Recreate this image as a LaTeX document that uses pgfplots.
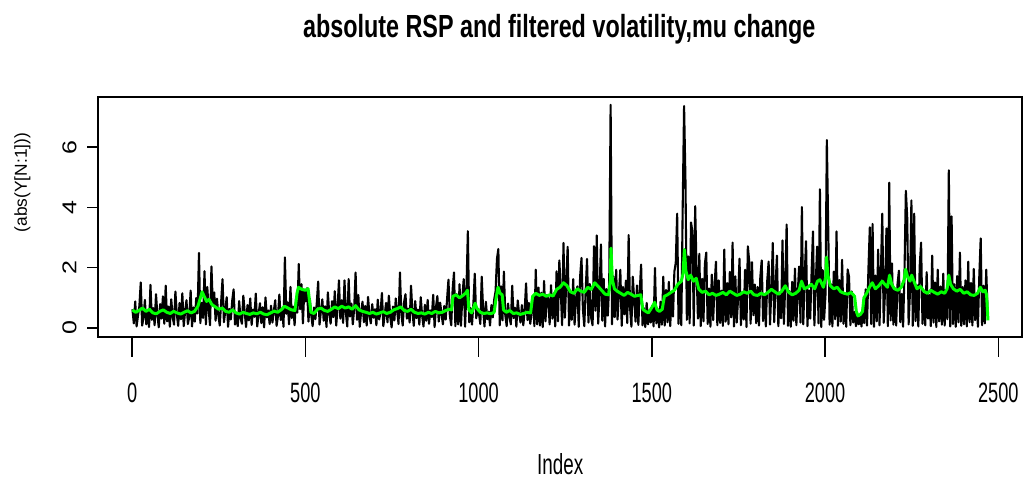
\documentclass[border=0pt]{standalone}
\usepackage{pgfplots}
\usepackage{pgfplotstable}
\pgfplotsset{compat=1.18}
\usepackage{fontspec}
\setmainfont{Liberation Sans}
\newfontfamily\condfont[FakeStretch=0.65]{Liberation Sans}
\newfontfamily\titlefont[FakeStretch=0.73]{Liberation Sans}
\definecolor{rgreen}{RGB}{0,255,0}
\newcommand\ytl[1]{\scalebox{1}[0.80]{\fontsize{25}{25}\selectfont #1}}

% |RSP| series, one value every 4 indices (index = 4*row + 1)
\pgfplotstableread[header=false,row sep=\\]{
0.62\\0.15\\0.88\\0.05\\0.41\\0.72\\1.51\\0.08\\0.35\\0.93\\0.12\\0.58\\0.03\\1.43\\0.27\\0.66\\0.09\\1.12\\0.44\\0.02\\0.79\\0.31\\1.05\\0.14\\1.40\\
0.22\\0.71\\0.04\\0.95\\0.38\\0.11\\1.21\\0.46\\0.07\\0.83\\0.29\\1.15\\0.06\\0.54\\0.92\\0.13\\0.37\\1.24\\0.05\\0.68\\0.21\\0.99\\0.48\\2.49\\0.16\\
0.84\\0.33\\1.88\\0.12\\1.36\\0.61\\0.09\\2.04\\0.75\\1.18\\0.24\\0.97\\0.42\\0.08\\0.86\\1.62\\0.19\\0.57\\1.02\\0.04\\0.63\\0.28\\0.91\\1.28\\0.11\\
0.47\\0.06\\0.89\\0.32\\0.14\\1.07\\0.52\\0.03\\0.76\\0.25\\0.98\\0.10\\0.61\\0.37\\1.14\\0.05\\0.43\\0.82\\0.16\\0.69\\0.02\\1.01\\0.35\\0.58\\0.13\\
0.74\\0.18\\0.55\\0.92\\0.07\\0.39\\1.11\\0.26\\0.64\\0.04\\2.34\\0.47\\0.85\\0.12\\1.36\\0.33\\0.71\\0.09\\0.96\\0.51\\2.12\\0.62\\1.45\\0.15\\1.27\\
0.88\\1.32\\0.21\\0.97\\0.43\\0.06\\0.68\\0.29\\0.83\\1.54\\0.11\\0.57\\0.95\\0.24\\0.72\\0.03\\1.18\\0.46\\0.14\\0.89\\0.36\\1.22\\0.08\\0.65\\1.58\\
0.31\\0.92\\0.17\\1.58\\0.49\\0.05\\1.62\\0.38\\0.81\\0.12\\0.66\\1.84\\0.27\\1.09\\0.04\\0.54\\0.87\\0.19\\0.73\\0.08\\1.03\\0.41\\0.15\\0.79\\0.34\\
0.62\\0.09\\0.94\\0.28\\0.51\\1.16\\0.06\\0.44\\0.83\\0.19\\1.07\\0.37\\0.02\\0.71\\0.25\\0.98\\0.55\\0.13\\1.84\\0.47\\0.08\\0.86\\1.12\\0.31\\0.64\\
0.18\\1.40\\0.52\\0.07\\0.89\\0.33\\0.61\\0.11\\1.02\\0.42\\0.05\\0.77\\0.24\\0.93\\0.14\\0.58\\0.36\\1.10\\0.03\\0.69\\1.06\\0.21\\0.84\\0.46\\0.12\\
0.73\\0.28\\0.95\\1.60\\0.41\\0.09\\1.27\\1.84\\0.06\\1.12\\0.12\\1.45\\0.07\\0.98\\1.62\\0.04\\1.31\\3.21\\0.19\\0.66\\0.11\\0.83\\1.80\\0.32\\0.57\\
0.48\\0.13\\1.70\\0.62\\0.05\\0.87\\0.29\\0.54\\0.08\\0.76\\0.35\\0.94\\1.22\\2.29\\2.62\\0.09\\1.38\\0.25\\1.87\\0.43\\0.06\\0.81\\0.37\\0.12\\1.40\\
0.33\\0.67\\0.04\\0.91\\0.45\\0.18\\0.76\\0.09\\0.58\\1.48\\0.26\\0.83\\0.14\\0.52\\1.05\\0.06\\1.93\\0.12\\1.34\\0.08\\1.17\\0.03\\1.56\\0.22\\1.09\\
0.96\\0.12\\1.42\\0.31\\1.13\\0.05\\1.88\\0.22\\2.24\\1.27\\0.09\\2.82\\0.34\\1.51\\2.69\\0.08\\1.19\\0.27\\1.62\\0.11\\0.94\\1.38\\0.04\\1.71\\2.32\\
0.62\\0.06\\1.24\\2.29\\0.18\\1.46\\0.33\\0.09\\2.71\\0.57\\3.07\\0.14\\1.12\\2.77\\0.24\\1.63\\0.05\\1.29\\0.41\\1.55\\7.40\\0.12\\1.71\\0.36\\1.93\\
0.28\\1.18\\1.93\\0.07\\1.36\\0.45\\1.57\\0.16\\3.08\\0.69\\0.04\\1.70\\0.93\\0.21\\1.41\\0.10\\1.22\\2.10\\0.09\\0.66\\0.03\\0.83\\0.12\\0.59\\0.18\\
0.74\\0.05\\1.99\\0.15\\0.63\\0.02\\0.87\\0.11\\1.70\\0.08\\1.26\\0.19\\1.53\\0.06\\1.14\\0.38\\1.87\\2.16\\3.79\\0.14\\1.45\\0.09\\3.99\\7.36\\4.88\\
0.27\\2.37\\0.15\\3.50\\3.20\\0.08\\4.04\\1.92\\0.31\\2.46\\0.06\\1.63\\0.22\\2.12\\2.50\\0.13\\1.31\\0.04\\1.77\\0.26\\1.42\\2.20\\0.09\\1.58\\0.17\\
1.24\\0.07\\2.60\\0.21\\1.49\\0.12\\1.86\\0.35\\2.83\\0.05\\1.71\\0.18\\1.02\\2.30\\0.09\\1.17\\0.28\\1.93\\0.03\\2.71\\2.20\\0.14\\2.18\\0.42\\1.44\\
0.16\\1.36\\0.08\\1.68\\2.24\\0.23\\1.12\\0.05\\1.57\\2.20\\0.11\\1.29\\2.82\\0.19\\1.41\\2.40\\0.06\\1.06\\0.32\\2.90\\0.13\\1.48\\3.43\\0.07\\1.22\\
0.04\\1.53\\0.24\\1.97\\0.09\\1.16\\2.04\\0.18\\4.01\\0.12\\1.71\\2.88\\0.06\\1.25\\0.31\\1.84\\3.20\\0.08\\1.49\\2.70\\0.15\\4.60\\0.03\\1.92\\0.27\\
1.08\\6.23\\3.30\\0.11\\1.45\\0.05\\1.87\\0.29\\3.20\\0.07\\1.59\\0.21\\2.26\\0.14\\1.13\\0.04\\1.94\\1.70\\0.09\\1.21\\0.18\\0.53\\0.06\\0.41\\0.12\\
0.44\\0.05\\0.67\\0.16\\1.28\\0.08\\1.96\\3.34\\0.13\\3.45\\0.04\\1.74\\0.22\\2.60\\0.09\\1.88\\3.79\\0.17\\1.23\\3.30\\0.06\\4.82\\0.25\\2.14\\0.11\\
1.32\\0.08\\1.46\\1.90\\0.19\\1.13\\0.04\\1.78\\4.55\\3.65\\0.12\\1.21\\4.23\\0.07\\3.79\\0.23\\1.42\\0.05\\2.06\\2.83\\0.14\\1.14\\0.09\\1.85\\0.31\\
1.09\\0.06\\2.40\\0.18\\1.51\\0.03\\1.93\\0.22\\1.38\\0.11\\1.80\\0.08\\1.24\\0.29\\5.23\\0.05\\3.70\\0.13\\1.45\\0.04\\1.72\\0.19\\2.50\\0.07\\1.36\\
0.12\\1.58\\0.05\\2.20\\0.19\\1.49\\0.08\\1.96\\0.26\\1.11\\0.04\\1.73\\2.97\\0.09\\1.40\\0.15\\1.93\\0.45\\
}\absdata

\begin{document}
\begin{tikzpicture}
\useasboundingbox (-98.2pt,-146.3pt) rectangle (928.8pt,336.7pt);
\begin{axis}[
  at={(0pt,0pt)}, anchor=south west,
  scale only axis, width=924pt, height=240pt,
  xmin=-97.8, xmax=2568.8, ymin=-0.29, ymax=7.67,
  axis line style={line width=2pt},
  every tick/.style={black, line width=1.6pt},
  xtick={0,500,1000,1500,2000,2500},
  xticklabels={0,500,1000,1500,2000,2500},
  ytick={0,2,4,6},
  yticklabels={\ytl{0},\ytl{2},\ytl{4},\ytl{6}},
  xtick pos=bottom, ytick pos=left,
  tick align=outside,
  xtick style={/pgfplots/major tick length=20pt},
  ytick style={/pgfplots/major tick length=11pt},
  xticklabel style={font=\condfont\fontsize{28}{28}\selectfont, anchor=base, yshift=-62pt},
  yticklabel style={rotate=90, anchor=center, yshift=24.5pt},
  xlabel={Index},
  xlabel style={font=\condfont\fontsize{29}{29}\selectfont, at={(axis description cs:0.5,0)}, anchor=base, yshift=-137.6pt},
  ylabel={(abs(Y[N:1]))},
  ylabel style={font=\fontsize{17.3}{17.3}\selectfont, at={(axis description cs:0,0.6425)}, anchor=center, yshift=75.7pt},
  title={absolute RSP and filtered volatility,mu change},
  title style={font=\titlefont\bfseries\fontsize{32}{32}\selectfont, at={(axis description cs:0.5,1)}, anchor=base, yshift=53pt, xshift=-1pt},
  clip=false,
]
\addplot[black, line width=2.1pt, line join=round] table[x expr=\coordindex*4+1, y index=0] {\absdata};
\addplot[rgreen, line width=3pt, line join=round] coordinates {
(1,0.60)(10,0.52)(20,0.58)(30,0.66)(40,0.55)(50,0.62)(60,0.50)(70,0.47)(80,0.55)(90,0.60)
(100,0.52)(110,0.48)(120,0.55)(130,0.50)(140,0.46)(150,0.52)(160,0.57)(170,0.50)(180,0.55)(190,0.72)
(196,0.95)(202,1.20)(208,1.05)(215,0.88)(222,0.95)(230,0.78)(240,0.70)(250,0.62)(260,0.66)(270,0.55)
(280,0.52)(290,0.60)(300,0.50)(310,0.46)(320,0.52)(330,0.48)(340,0.45)(350,0.50)(360,0.47)(370,0.52)
(380,0.46)(390,0.44)(400,0.50)(410,0.56)(420,0.52)(430,0.60)(440,0.72)(450,0.66)(460,0.60)(470,0.58)
(476,1.15)(480,1.35)(490,1.28)(500,1.25)(508,1.30)(512,0.90)(516,0.52)(525,0.48)(535,0.62)(545,0.66)
(555,0.58)(565,0.55)(575,0.62)(585,0.70)(595,0.64)(605,0.72)(615,0.66)(625,0.70)(635,0.62)(645,0.74)
(655,0.60)(665,0.55)(675,0.52)(685,0.48)(695,0.52)(705,0.46)(715,0.50)(725,0.54)(735,0.48)(745,0.52)
(755,0.60)(765,0.64)(775,0.70)(785,0.58)(795,0.55)(805,0.62)(815,0.52)(825,0.48)(835,0.50)(845,0.46)
(855,0.52)(865,0.48)(875,0.55)(885,0.50)(895,0.52)(905,0.58)(915,0.62)(922,0.60)(926,1.05)(935,1.10)
(945,1.00)(955,1.08)(962,1.15)(968,1.25)(972,0.60)(980,0.50)(990,0.82)(995,0.65)(1005,0.52)(1015,0.48)
(1025,0.50)(1035,0.47)(1045,0.52)(1050,0.95)(1056,1.35)(1062,1.15)(1068,1.10)(1072,0.60)(1080,0.52)(1090,0.58)
(1100,0.48)(1110,0.50)(1120,0.45)(1130,0.48)(1140,0.52)(1150,0.50)(1156,1.05)(1165,1.15)(1175,1.08)(1185,1.12)
(1195,1.05)(1205,1.10)(1215,1.06)(1225,1.28)(1235,1.35)(1245,1.50)(1255,1.40)(1265,1.20)(1275,1.15)(1285,1.30)
(1295,1.22)(1305,1.18)(1315,1.35)(1325,1.28)(1335,1.50)(1345,1.38)(1355,1.25)(1365,1.12)(1375,1.10)(1380,1.55)
(1382,2.65)(1386,1.60)(1392,1.30)(1400,1.22)(1410,1.15)(1420,1.08)(1430,1.18)(1440,1.12)(1450,1.05)(1460,1.08)
(1468,1.10)(1474,0.62)(1482,0.55)(1490,0.50)(1500,0.68)(1508,0.85)(1515,0.60)(1522,0.55)(1530,0.62)(1536,1.05)
(1545,1.10)(1555,1.18)(1565,1.25)(1575,1.45)(1585,1.55)(1590,1.80)(1594,2.60)(1598,1.90)(1605,1.60)(1612,1.75)
(1620,1.55)(1628,1.65)(1635,1.30)(1645,1.18)(1655,1.22)(1665,1.10)(1675,1.15)(1685,1.08)(1695,1.12)(1705,1.18)
(1715,1.10)(1725,1.22)(1735,1.15)(1745,1.08)(1755,1.12)(1765,1.20)(1775,1.15)(1785,1.22)(1795,1.10)(1805,1.08)
(1815,1.15)(1825,1.10)(1835,1.18)(1845,1.28)(1855,1.20)(1865,1.12)(1875,1.22)(1885,1.40)(1895,1.18)(1905,1.10)
(1915,1.15)(1925,1.25)(1932,1.55)(1940,1.30)(1950,1.35)(1960,1.45)(1970,1.30)(1978,1.55)(1985,1.60)(1995,1.35)
(2002,1.70)(2004,2.35)(2008,1.75)(2015,1.40)(2025,1.30)(2035,1.35)(2045,1.20)(2055,1.15)(2065,1.12)(2075,1.18)
(2085,1.05)(2090,0.55)(2095,0.40)(2102,0.45)(2108,0.55)(2112,1.00)(2120,1.15)(2128,1.35)(2136,1.50)(2145,1.30)
(2155,1.40)(2165,1.55)(2172,1.45)(2180,1.35)(2186,1.75)(2192,1.45)(2200,1.30)(2210,1.25)(2220,1.35)(2228,1.60)
(2232,1.95)(2238,1.70)(2245,1.55)(2250,1.75)(2258,1.50)(2265,1.30)(2275,1.38)(2285,1.22)(2295,1.15)(2305,1.25)
(2315,1.18)(2325,1.12)(2335,1.20)(2345,1.15)(2352,1.30)(2357,1.75)(2362,1.45)(2370,1.30)(2380,1.22)(2390,1.28)
(2400,1.15)(2410,1.20)(2420,1.10)(2430,1.08)(2440,1.15)(2448,1.35)(2455,1.20)(2462,1.25)(2466,1.10)(2470,0.25)
};
\end{axis}
\end{tikzpicture}
\end{document}
